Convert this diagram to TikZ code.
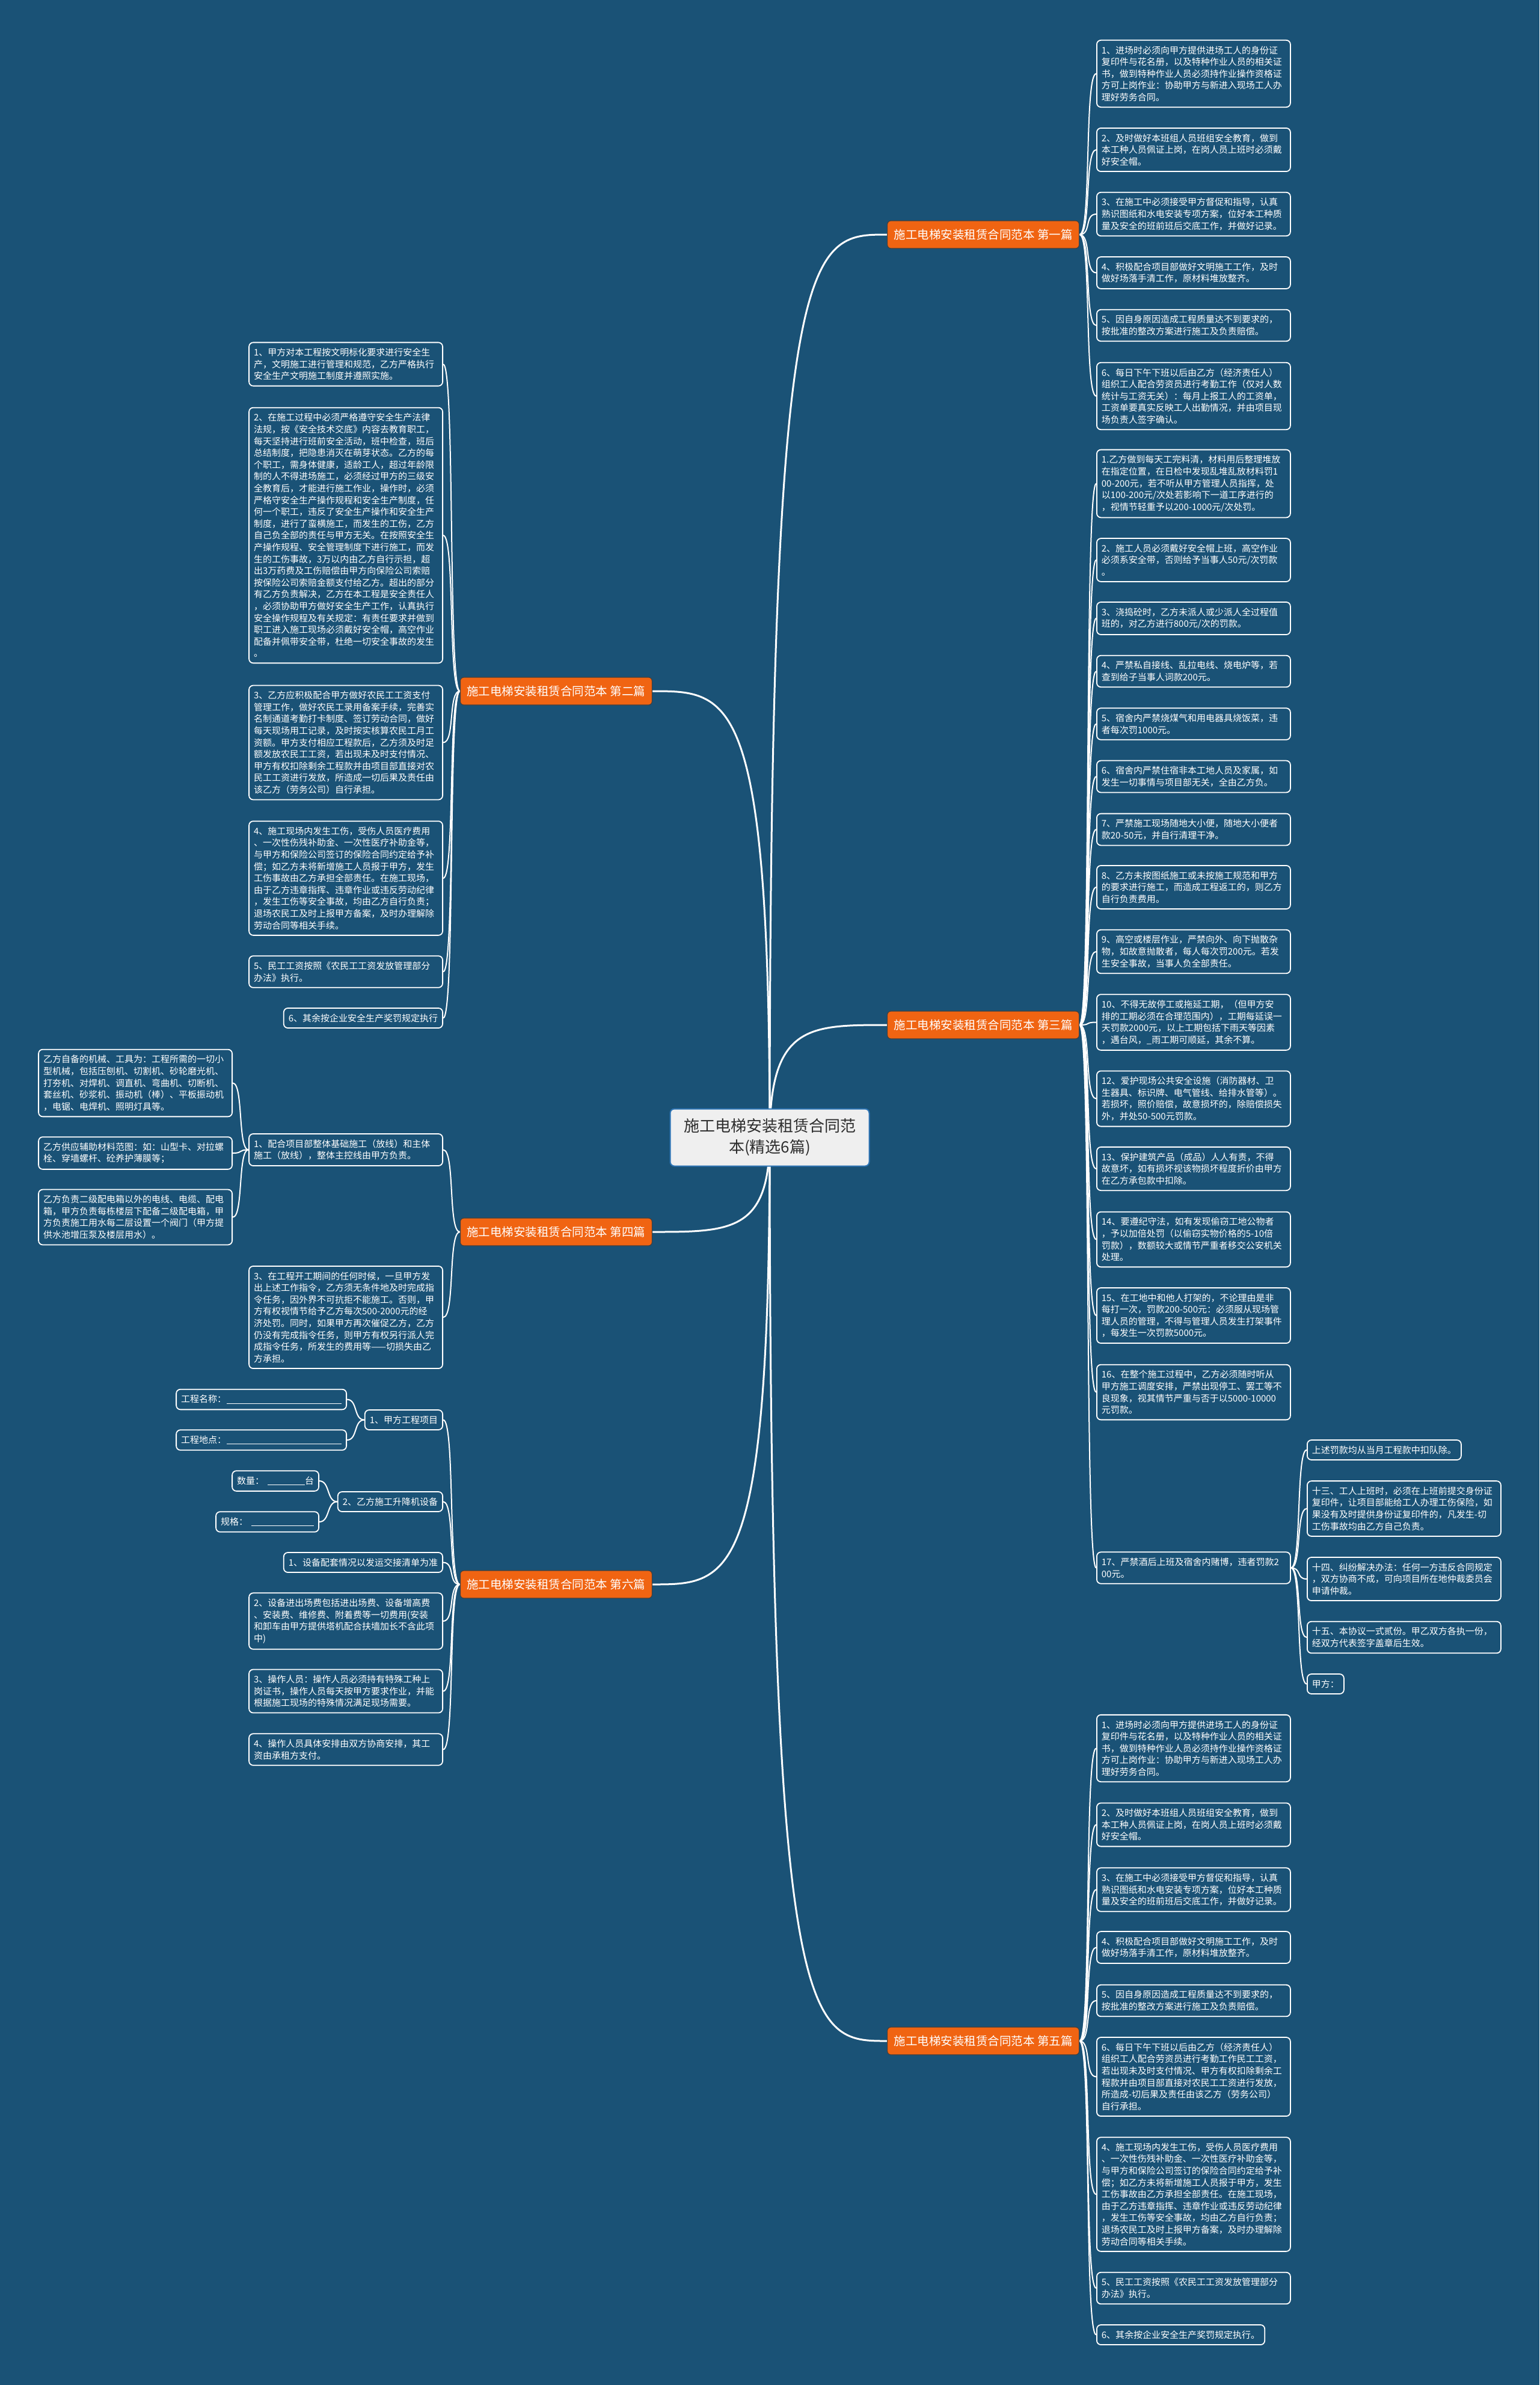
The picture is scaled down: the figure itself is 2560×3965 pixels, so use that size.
\documentclass[tikz,border=0pt]{standalone}
\usepackage{fontspec}
\setmainfont{Noto Sans CJK SC}
\usetikzlibrary{backgrounds}
\definecolor{bgc}{RGB}{26,82,118}
\definecolor{orangec}{RGB}{240,100,18}
\definecolor{rootfill}{RGB}{239,239,239}
\definecolor{rootborder}{RGB}{46,117,182}
\definecolor{roottext}{RGB}{45,45,45}
\newcommand\leaffnt{\fontsize{15pt}{19.6pt}\selectfont}
\newcommand\branchfnt{\fontsize{19.5pt}{22pt}\selectfont}
\newcommand\rootfnt{\fontsize{26pt}{35pt}\selectfont}
\newcommand\blank[1]{\rule[-2pt]{#1}{1.2pt}}
\tikzset{
  rconn/.style={draw=white, line width=3pt},
  lconn/.style={draw=white, line width=2pt},
  leaf/.style={draw=white, line width=1.8pt, rounded corners=7pt, fill=bgc, text=white,
    font=\leaffnt, align=left, inner xsep=8pt, inner ysep=9.5pt},
  wleaf/.style={leaf, text width=306pt},
  branch/.style={fill=orangec, draw=black!75, line width=1.2pt, rounded corners=6pt, text=white,
    font=\branchfnt, inner xsep=10pt, inner ysep=4pt, minimum height=46pt, minimum width=319pt},
  rootn/.style={fill=rootfill, draw=rootborder, line width=2pt, rounded corners=7pt, text=roottext,
    font=\rootfnt, align=center, minimum width=331pt, minimum height=95pt}
}
\begin{document}
\begin{tikzpicture}[x=1pt,y=-1pt]
\useasboundingbox (0,0) rectangle (2560,3965);
\begin{scope}[on background layer]
\fill[bgc] (0,0) rectangle (2560,3965);
\end{scope}

% ---------- root ----------
\node[rootn] (root) at (1280,1891) {施工电梯安装租赁合同范\\本(精选6篇)};

% ---------- branch labels ----------
\node[branch, anchor=west] (b1) at (1475,390) {施工电梯安装租赁合同范本 第一篇};
\node[branch, anchor=west] (b3) at (1475,1704) {施工电梯安装租赁合同范本 第三篇};
\node[branch, anchor=west] (b5) at (1475,3393) {施工电梯安装租赁合同范本 第五篇};
\node[branch, anchor=east] (b2) at (1085,1149) {施工电梯安装租赁合同范本 第二篇};
\node[branch, anchor=east] (b4) at (1085,2048) {施工电梯安装租赁合同范本 第四篇};
\node[branch, anchor=east] (b6) at (1085,2634) {施工电梯安装租赁合同范本 第六篇};

% ---------- branch 1 leaves ----------
\node[wleaf, anchor=west] (l1) at (1823,122.5) {1、进场时必须向甲方提供进场工人的身份证\\复印件与花名册，以及特种作业人员的相关证\\书，做到特种作业人员必须持作业操作资格证\\方可上岗作业：协助甲方与新进入现场工人办\\理好劳务合同。};
\node[wleaf, anchor=west] (l2) at (1823,249) {2、及时做好本班组人员班组安全教育，做到\\本工种人员佩证上岗，在岗人员上班时必须戴\\好安全帽。};
\node[wleaf, anchor=west] (l3) at (1823,356) {3、在施工中必须接受甲方督促和指导，认真\\熟识图纸和水电安装专项方案，位好本工种质\\量及安全的班前班后交底工作，并做好记录。};
\node[wleaf, anchor=west] (l4) at (1823,453.5) {4、积极配合项目部做好文明施工工作，及时\\做好场落手清工作，原材料堆放整齐。};
\node[wleaf, anchor=west] (l5) at (1823,541) {5、因自身原因造成工程质量达不到要求的，\\按批准的整改方案进行施工及负责赔偿。};
\node[wleaf, anchor=west] (l6) at (1823,658.5) {6、每日下午下班以后由乙方（经济责任人）\\组织工人配合劳资员进行考勤工作（仅对人数\\统计与工资无关）：每月上报工人的工资单，\\工资单要真实反映工人出勤情况，并由项目现\\场负责人签字确认。};

% ---------- branch 3 leaves ----------
\node[wleaf, anchor=west] (t1) at (1823,804) {1.乙方做到每天工完料清，材料用后整理堆放\\在指定位置，在日检中发现乱堆乱放材料罚1\\00-200元，若不听从甲方管理人员指挥，处\\以100-200元/次处若影响下一道工序进行的\\，视情节轻重予以200-1000元/次处罚。};
\node[wleaf, anchor=west] (t2) at (1823,931) {2、施工人员必须戴好安全帽上班，高空作业\\必须系安全带，否则给予当事人50元/次罚款\\。};
\node[wleaf, anchor=west] (t3) at (1823,1028) {3、浇捣砼时，乙方未派人或少派人全过程值\\班的，对乙方进行800元/次的罚款。};
\node[wleaf, anchor=west] (t4) at (1823,1116) {4、严禁私自接线、乱拉电线、烧电炉等，若\\查到给子当事人词款200元。};
\node[wleaf, anchor=west] (t5) at (1823,1203.5) {5、宿舍内严禁烧煤气和用电器具烧饭菜，违\\者每次罚1000元。};
\node[wleaf, anchor=west] (t6) at (1823,1291) {6、宿舍内严禁住宿非本工地人员及家属，如\\发生一切事情与项目部无关，全由乙方负。};
\node[wleaf, anchor=west] (t7) at (1823,1379) {7、严禁施工现场随地大小便，随地大小便者\\款20-50元，并自行清理干净。};
\node[wleaf, anchor=west] (t8) at (1823,1475) {8、乙方未按图纸施工或未按施工规范和甲方\\的要求进行施工，而造成工程返工的，则乙方\\自行负责费用。};
\node[wleaf, anchor=west] (t9) at (1823,1582) {9、高空或楼层作业，严禁向外、向下抛散杂\\物，如故意抛散者，每人每次罚200元。若发\\生安全事故，当事人负全部责任。};
\node[wleaf, anchor=west] (t10) at (1823,1699.5) {10、不得无故停工或拖延工期，（但甲方安\\排的工期必须在合理范围内），工期每延误一\\天罚款2000元，以上工期包括下雨天等因素\\，遇台风，\_雨工期可顺延，其余不算。};
\node[wleaf, anchor=west] (t12) at (1823,1826.5) {12、爱护现场公共安全设施（消防器材、卫\\生器具、标识牌、电气管线、给排水管等）。\\若损坏，照价赔偿，故意损坏的，除赔偿损失\\外，并处50-500元罚款。};
\node[wleaf, anchor=west] (t13) at (1823,1943) {13、保护建筑产品（成品）人人有责，不得\\故意坏，如有损坏视该物损坏程度折价由甲方\\在乙方承包款中扣除。};
\node[wleaf, anchor=west] (t14) at (1823,2060.5) {14、要遵纪守法，如有发现偷窃工地公物者\\，予以加倍处罚（以偷窃实物价格的5-10倍\\罚款），数额较大或情节严重者移交公安机关\\处理。};
\node[wleaf, anchor=west] (t15) at (1823,2187) {15、在工地中和他人打架的，不论理由是非\\每打一次，罚款200-500元：必须服从现场管\\理人员的管理，不得与管理人员发生打架事件\\，每发生一次罚款5000元。};
\node[wleaf, anchor=west] (t16) at (1823,2314.5) {16、在整个施工过程中，乙方必须随时听从\\甲方施工调度安排，严禁出现停工、罢工等不\\良现象，视其情节严重与否于以5000-10000\\元罚款。};
\node[wleaf, anchor=west] (t17) at (1823,2606.5) {17、严禁酒后上班及宿舍内赌博，违者罚款2\\00元。};

% ---------- item 17 sub-leaves ----------
\node[leaf, anchor=west] (s1) at (2173,2410.5) {上述罚款均从当月工程款中扣队除。};
\node[wleaf, anchor=west] (s2) at (2173,2508) {十三、工人上班时，必须在上班前提交身份证\\复印件，让项目部能给工人办理工伤保险，如\\果没有及时提供身份证复印件的，凡发生-切\\工伤事故均由乙方自己负责。};
\node[wleaf, anchor=west] (s3) at (2173,2625) {十四、纠纷解决办法：任何一方违反合同规定\\，双方协商不成，可向项目所在地仲裁委员会\\申请仲裁。};
\node[wleaf, anchor=west] (s4) at (2173,2722) {十五、本协议一式贰份。甲乙双方各执一份，\\经双方代表签字盖章后生效。};
\node[leaf, anchor=west] (s5) at (2173,2799.5) {甲方：};

% ---------- branch 5 leaves ----------
\node[wleaf, anchor=west] (f1) at (1823,2906.5) {1、进场时必须向甲方提供进场工人的身份证\\复印件与花名册，以及特种作业人员的相关证\\书，做到特种作业人员必须持作业操作资格证\\方可上岗作业：协助甲方与新进入现场工人办\\理好劳务合同。};
\node[wleaf, anchor=west] (f2) at (1823,3033.5) {2、及时做好本班组人员班组安全教育，做到\\本工种人员佩证上岗，在岗人员上班时必须戴\\好安全帽。};
\node[wleaf, anchor=west] (f3) at (1823,3141.5) {3、在施工中必须接受甲方督促和指导，认真\\熟识图纸和水电安装专项方案，位好本工种质\\量及安全的班前班后交底工作，并做好记录。};
\node[wleaf, anchor=west] (f4) at (1823,3237.5) {4、积极配合项目部做好文明施工工作，及时\\做好场落手清工作，原材料堆放整齐。};
\node[wleaf, anchor=west] (f5) at (1823,3326) {5、因自身原因造成工程质量达不到要求的，\\按批准的整改方案进行施工及负责赔偿。};
\node[wleaf, anchor=west] (f6) at (1823,3452.5) {6、每日下午下班以后由乙方（经济责任人）\\组织工人配合劳资员进行考勤工作民工工资，\\若出现未及时支付情况、甲方有权扣除剩余工\\程款并由项目部直接对农民工工资进行发放，\\所造成-切后果及责任由该乙方（劳务公司）\\自行承担。};
\node[wleaf, anchor=west] (f7) at (1823,3648) {4、施工现场内发生工伤，受伤人员医疗费用\\、一次性伤残补助金、一次性医疗补助金等，\\与甲方和保险公司签订的保险合同约定给予补\\偿；如乙方未将新增施工人员报于甲方，发生\\工伤事故由乙方承担全部责任。在施工现场，\\由于乙方违章指挥、违章作业或违反劳动纪律\\，发生工伤等安全事故，均由乙方自行负责；\\退场农民工及时上报甲方备案，及时办理解除\\劳动合同等相关手续。};
\node[wleaf, anchor=west] (f8) at (1823,3804) {5、民工工资按照《农民工工资发放管理部分\\办法》执行。};
\node[leaf, anchor=west] (f9) at (1823,3881.5) {6、其余按企业安全生产奖罚规定执行。};

% ---------- branch 2 leaves ----------
\node[wleaf, anchor=east] (e1) at (737,605.5) {1、甲方对本工程按文明标化要求进行安全生\\产，文明施工进行管理和规范，乙方严格执行\\安全生产文明施工制度并遵照实施。};
\node[wleaf, anchor=east] (e2) at (737,890) {2、在施工过程中必须严格遵守安全生产法律\\法规，按《安全技术交底》内容去教育职工，\\每天坚持进行班前安全活动，班中检查，班后\\总结制度，把隐患消灭在萌芽状态。乙方的每\\个职工，需身体健康，适龄工人，超过年龄限\\制的人不得进场施工，必须经过甲方的三级安\\全教育后，才能进行施工作业，操作时，必须\\严格守安全生产操作规程和安全生产制度，任\\何一个职工，违反了安全生产操作和安全生产\\制度，进行了蛮横施工，而发生的工伤，乙方\\自己负全部的责任与甲方无关。在按照安全生\\产操作规程、安全管理制度下进行施工，而发\\生的工伤事故，3万以内由乙方自行示担，超\\出3万药费及工伤赔偿由甲方向保险公司索赔\\按保险公司索赔金额支付给乙方。超出的部分\\有乙方负责解决，乙方在本工程是安全责任人\\，必须协助甲方做好安全生产工作，认真执行\\安全操作规程及有关规定：有责任要求并做到\\职工进入施工现场必须戴好安全帽，高空作业\\配备并佩带安全带，杜绝一切安全事故的发生\\。};
\node[wleaf, anchor=east] (e3) at (737,1234.5) {3、乙方应积极配合甲方做好农民工工资支付\\管理工作，做好农民工录用备案手续，完善实\\名制通道考勤打卡制度、签订劳动合同，做好\\每天现场用工记录，及时按实核算农民工月工\\资额。甲方支付相应工程款后，乙方须及时足\\额发放农民工工资，若出现未及时支付情况、\\甲方有权扣除剩余工程款并由项目部直接对农\\民工工资进行发放，所造成一切后果及责任由\\该乙方（劳务公司）自行承担。};
\node[wleaf, anchor=east] (e4) at (737,1460) {4、施工现场内发生工伤，受伤人员医疗费用\\、一次性伤残补助金、一次性医疗补助金等，\\与甲方和保险公司签订的保险合同约定给予补\\偿；如乙方未将新增施工人员报于甲方，发生\\工伤事故由乙方承担全部责任。在施工现场，\\由于乙方违章指挥、违章作业或违反劳动纪律\\，发生工伤等安全事故，均由乙方自行负责；\\退场农民工及时上报甲方备案，及时办理解除\\劳动合同等相关手续。};
\node[wleaf, anchor=east] (e5) at (737,1615.5) {5、民工工资按照《农民工工资发放管理部分\\办法》执行。};
\node[leaf, anchor=east] (e6) at (737,1692.5) {6、其余按企业安全生产奖罚规定执行};

% ---------- branch 4 ----------
\node[wleaf, anchor=east] (d1) at (737,1911.5) {1、配合项目部整体基础施工（放线）和主体\\施工（放线），整体主控线由甲方负责。};
\node[wleaf, anchor=east] (d1a) at (387,1800.5) {乙方自备的机械、工具为：工程所需的一切小\\型机械，包括压刨机、切割机、砂轮磨光机、\\打夯机、对焊机、调直机、弯曲机、切断机、\\套丝机、砂浆机、振动机（棒）、平板振动机\\，电锯、电焊机、照明灯具等。};
\node[wleaf, anchor=east] (d1b) at (387,1917) {乙方供应辅助材料范图：如：山型卡、对拉螺\\栓、穿墙螺杆、砼养护薄膜等；};
\node[wleaf, anchor=east] (d1c) at (387,2023.5) {乙方负责二级配电箱以外的电线、电缆、配电\\箱，甲方负责每栋楼层下配备二级配电箱，甲\\方负责施工用水每二层设置一个阀门（甲方提\\供水池增压泵及楼层用水）。};
\node[wleaf, anchor=east] (d3) at (737,2190) {3、在工程开工期间的任何时候，一旦甲方发\\出上述工作指令，乙方须无条件地及时完成指\\令任务，因外界不可抗拒不能施工。否则，甲\\方有权视情节给予乙方每次500-2000元的经\\济处罚。同时，如果甲方再次催促乙方，乙方\\仍没有完成指令任务，则甲方有权另行派人完\\成指令任务，所发生的费用等——切损失由乙\\方承担。};

% ---------- branch 6 ----------
\node[leaf, anchor=east] (g1) at (737,2360.5) {1、甲方工程项目};
\node[leaf, anchor=east] (g1a) at (577,2326.5) {工程名称：\hspace{1pt}\blank{191pt}};
\node[leaf, anchor=east] (g1b) at (577,2394) {工程地点：\hspace{1pt}\blank{191pt}};
\node[leaf, anchor=east] (g2) at (737,2496.5) {2、乙方施工升降机设备};
\node[leaf, anchor=east] (g2a) at (531,2462) {数量：\hspace{6pt}\blank{62pt}台};
\node[leaf, anchor=east] (g2b) at (531,2530) {规格：\hspace{6pt}\blank{104pt}};
\node[leaf, anchor=east] (g3) at (737,2597.5) {1、设备配套情况以发运交接清单为准};
\node[wleaf, anchor=east] (g4) at (737,2695) {2、设备进出场费包括进出场费、设备增高费\\、安装费、维修费、附着费等一切费用(安装\\和卸车由甲方提供塔机配合扶墙加长不含此项\\中)};
\node[wleaf, anchor=east] (g5) at (737,2811.5) {3、操作人员：操作人员必须持有特殊工种上\\岗证书，操作人员每天按甲方要求作业，并能\\根据施工现场的特殊情况满足现场需要。};
\node[wleaf, anchor=east] (g6) at (737,2908.5) {4、操作人员具体安排由双方协商安排，其工\\资由承租方支付。};

% ---------- connectors (behind the boxes) ----------
\begin{scope}[on background layer]
\foreach \b in {b1,b3,b5}{
  \draw[rconn] (root.center) .. controls (root.center |- \b.west) and +(-130,0) .. (\b.west);
}
\foreach \b in {b2,b4,b6}{
  \draw[rconn] (root.center) .. controls (root.center |- \b.east) and +(130,0) .. (\b.east);
}
\foreach \l in {l1,l2,l3,l4,l5,l6}{
  \draw[lconn] (b1.east) .. controls +(20,0) and +(-20,0) .. (\l.west);
}
\foreach \l in {t1,t2,t3,t4,t5,t6,t7,t8,t9,t10,t12,t13,t14,t15,t16,t17}{
  \draw[lconn] (b3.east) .. controls +(20,0) and +(-20,0) .. (\l.west);
}
\foreach \l in {s1,s2,s3,s4,s5}{
  \draw[lconn] (t17.east) .. controls +(18,0) and +(-18,0) .. (\l.west);
}
\foreach \l in {f1,f2,f3,f4,f5,f6,f7,f8,f9}{
  \draw[lconn] (b5.east) .. controls +(20,0) and +(-20,0) .. (\l.west);
}
\foreach \l in {e1,e2,e3,e4,e5,e6}{
  \draw[lconn] (b2.west) .. controls +(-20,0) and +(20,0) .. (\l.east);
}
\foreach \l in {d1,d3}{
  \draw[lconn] (b4.west) .. controls +(-20,0) and +(20,0) .. (\l.east);
}
\foreach \l in {d1a,d1b,d1c}{
  \draw[lconn] (d1.west) .. controls +(-18,0) and +(18,0) .. (\l.east);
}
\foreach \l in {g1,g2,g3,g4,g5,g6}{
  \draw[lconn] (b6.west) .. controls +(-20,0) and +(20,0) .. (\l.east);
}
\foreach \l in {g1a,g1b}{
  \draw[lconn] (g1.west) .. controls +(-18,0) and +(18,0) .. (\l.east);
}
\foreach \l in {g2a,g2b}{
  \draw[lconn] (g2.west) .. controls +(-18,0) and +(18,0) .. (\l.east);
}
\end{scope}
\end{tikzpicture}
\end{document}
